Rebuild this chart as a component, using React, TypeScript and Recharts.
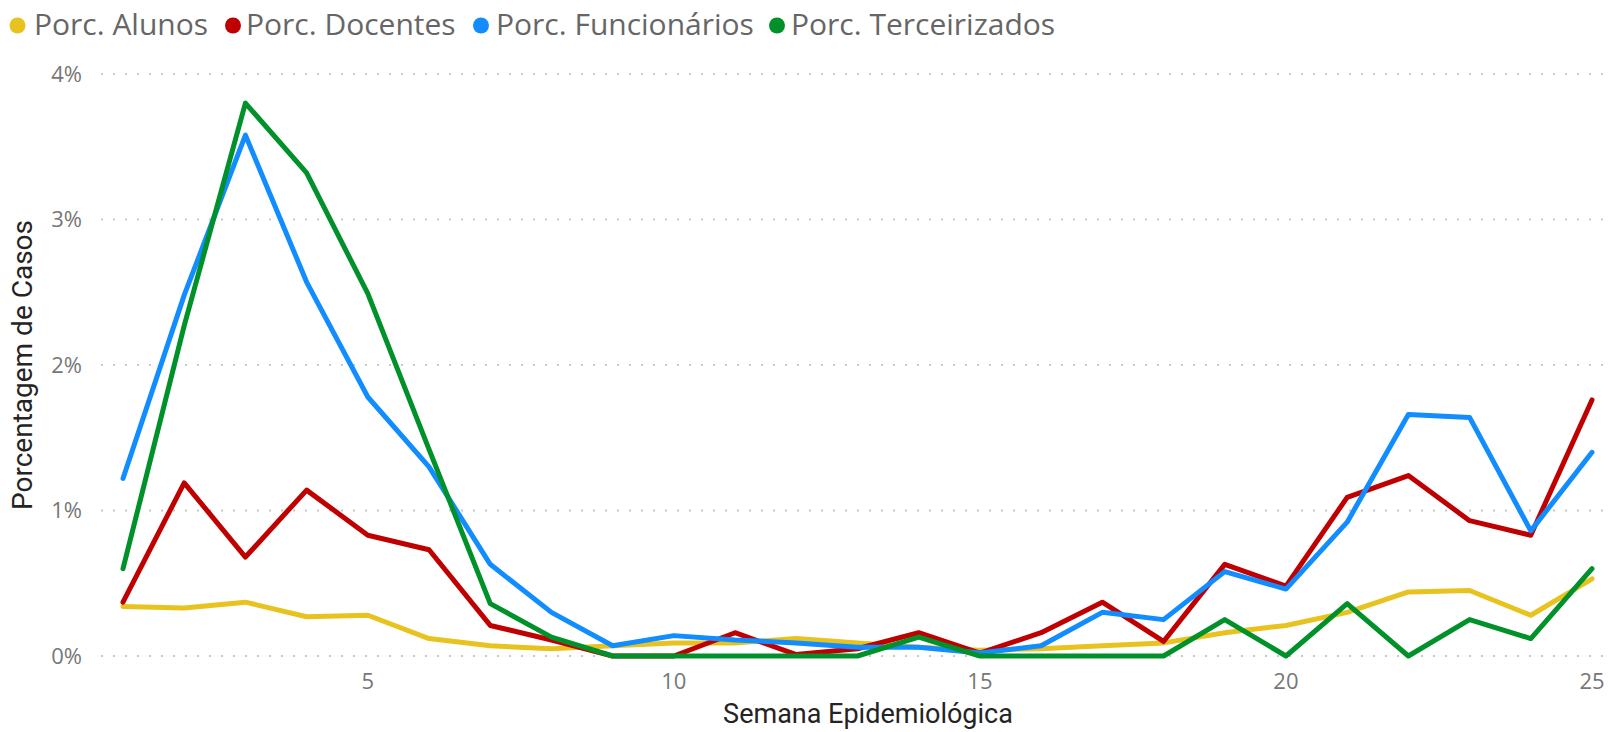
import { LineChart, Line, XAxis, YAxis, CartesianGrid, Legend } from "recharts";

const weeks = [1, 2, 3, 4, 5, 6, 7, 8, 9, 10, 11, 12, 13, 14, 15, 16, 17, 18, 19, 20, 21, 22, 23, 24, 25];
const alunos = [0.34, 0.33, 0.37, 0.27, 0.28, 0.12, 0.07, 0.05, 0.07, 0.09, 0.09, 0.12, 0.09, 0.06, 0.04, 0.05, 0.07, 0.09, 0.16, 0.21, 0.3, 0.44, 0.45, 0.28, 0.53];
const docentes = [0.37, 1.19, 0.68, 1.14, 0.83, 0.73, 0.21, 0.11, 0, 0, 0.16, 0.01, 0.05, 0.16, 0.02, 0.16, 0.37, 0.1, 0.63, 0.48, 1.09, 1.24, 0.93, 0.83, 1.76];
const funcionarios = [1.22, 2.48, 3.58, 2.57, 1.78, 1.3, 0.63, 0.3, 0.07, 0.14, 0.11, 0.09, 0.06, 0.06, 0.02, 0.07, 0.3, 0.25, 0.58, 0.46, 0.92, 1.66, 1.64, 0.86, 1.4];
const terceirizados = [0.6, 2.27, 3.8, 3.32, 2.49, 1.42, 0.36, 0.13, 0, 0, 0, 0, 0, 0.13, 0, 0, 0, 0, 0.25, 0, 0.36, 0, 0.25, 0.12, 0.6];

const xTicks = [5, 10, 15, 20, 25];
const yTicks = [0, 1, 2, 3, 4];

const series = [
  { key: "alunos", name: "Porc. Alunos", color: "#E8C320" },
  { key: "docentes", name: "Porc. Docentes", color: "#C00000" },
  { key: "funcionarios", name: "Porc. Funcionários", color: "#118DFF" },
  { key: "terceirizados", name: "Porc. Terceirizados", color: "#00912A" },
];
// legend item x positions (circle centre, text start)
const legendPos = [
  [17.5, 34],
  [233, 246],
  [481, 496],
  [777, 791],
];

const rows = weeks.map((w, i) => ({
  week: w,
  alunos: alunos[i],
  docentes: docentes[i],
  funcionarios: funcionarios[i],
  terceirizados: terceirizados[i],
}));

const uiFont = "'Open Sans', 'Noto Sans', sans-serif";
const titleFont = "Roboto, 'Noto Sans', sans-serif";

function LegendRow() {
  return (
    <svg width={1613} height={50} style={{ display: "block" }}>
      {series.map((s, i) => (
        <g key={s.key}>
          <circle cx={legendPos[i][0]} cy={25.5} r={8} fill={s.color} />
          <text x={legendPos[i][1]} y={35} fontSize={30} fontFamily={uiFont} fill="#666666">
            {s.name}
          </text>
        </g>
      ))}
    </svg>
  );
}

export default function App() {
  return (
    <div style={{ position: "absolute", left: 0, top: 0, width: 1613, height: 732, background: "#fff" }}>
      <LineChart width={1613} height={732} data={rows} margin={{ top: 24, right: 7, bottom: 0, left: 0 }}>
        <CartesianGrid vertical={false} stroke="#c8c8c8" strokeWidth={2} strokeDasharray="2 10" />
        <XAxis
          dataKey="week"
          type="number"
          domain={[1, 25]}
          ticks={xTicks}
          padding={{ left: 22, right: 14 }}
          height={76}
          tickSize={0}
          tickMargin={17}
          axisLine={false}
          tickLine={false}
          tick={{ fill: "#777777", fontSize: 22, fontFamily: uiFont }}
          label={() => (
            <text x={868} y={723} textAnchor="middle" fill="#252423" fontSize={27} fontFamily={titleFont}>
              Semana Epidemiológica
            </text>
          )}
        />
        <YAxis
          type="number"
          domain={[0, 4]}
          ticks={yTicks}
          width={101}
          tickSize={0}
          tickMargin={19}
          axisLine={false}
          tickLine={false}
          tickFormatter={(v) => `${v}%`}
          tick={{ fill: "#777777", fontSize: 22, fontFamily: uiFont }}
          label={() => (
            <text
              x={32}
              y={365}
              transform="rotate(-90 32 365)"
              textAnchor="middle"
              fill="#252423"
              fontSize={28}
              fontFamily={titleFont}
            >
              Porcentagem de Casos
            </text>
          )}
        />
        <Legend
          verticalAlign="top"
          align="left"
          wrapperStyle={{ top: 0, left: 0, width: 1613, height: 50 }}
          content={() => <LegendRow />}
        />
        {series.map((s) => (
          <Line
            key={s.key}
            type="linear"
            dataKey={s.key}
            name={s.name}
            stroke={s.color}
            strokeWidth={5}
            strokeLinejoin="round"
            strokeLinecap="round"
            dot={false}
            activeDot={false}
            isAnimationActive={false}
          />
        ))}
      </LineChart>
    </div>
  );
}
